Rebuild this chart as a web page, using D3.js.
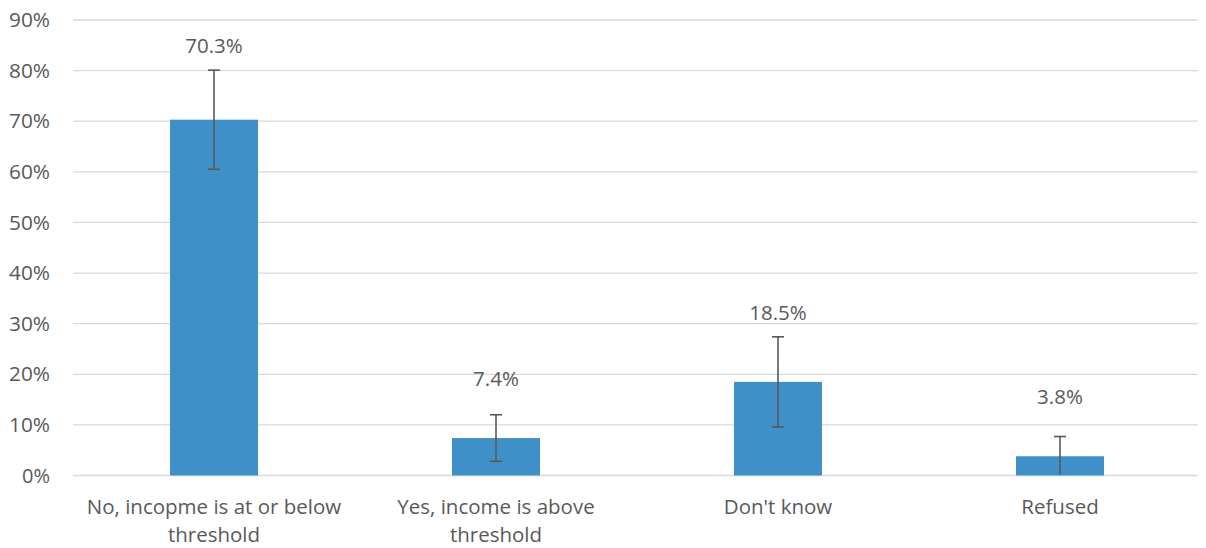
<!DOCTYPE html>
<html><head><meta charset="utf-8">
<script src="https://cdn.jsdelivr.net/npm/d3@7"></script>
<style>body{margin:0;background:#fff}svg{display:block}text{font-family:"Open Sans",sans-serif;fill:#595959}</style>
</head><body><svg id="c" width="1206" height="548"></svg>
<script>
const categories = ["No, incopme is at or below threshold","Yes, income is above threshold","Don't know","Refused"];
const categoryLines = [["No, incopme is at or below","threshold"],["Yes, income is above","threshold"],["Don't know"],["Refused"]];
const values = [70.3, 7.4, 18.5, 3.8];
const errLow = [60.5, 2.8, 9.6, 0.2];
const errHigh = [80.1, 12.0, 27.4, 7.7];
const labelAt = [84.9, 19.1, 32.1, 15.5];
const yTicks = [0,10,20,30,40,50,60,70,80,90];

const svg = d3.select("#c");
const x = d3.scaleBand().domain(categories).range([73,1201]).paddingInner(0.688).paddingOuter(0.344);
const y = d3.scaleLinear().domain([0,90]).range([475.5,20]);

svg.append("g").selectAll("line").data(yTicks).join("line")
  .attr("x1",73).attr("x2",1198).attr("y1",d=>y(d)).attr("y2",d=>y(d))
  .attr("stroke","#d9d9d9").attr("stroke-width",1.3);

svg.append("g").selectAll("text").data(yTicks).join("text")
  .attr("x",50).attr("y",d=>y(d)).attr("dy","0.35em").attr("text-anchor","end")
  .attr("font-size",20.5).attr("textLength",d=>d===0?28:41).attr("lengthAdjust","spacingAndGlyphs").text(d=>d+"%");

svg.append("g").selectAll("rect").data(values).join("rect")
  .attr("x",(d,i)=>x(categories[i])).attr("width",x.bandwidth())
  .attr("y",d=>y(d)).attr("height",d=>y(0)-y(d)).attr("fill","#3f8fc8");

const eb = svg.append("g").attr("stroke","#595959").attr("stroke-width",1.6);
values.forEach((v,i)=>{
  const cx = x(categories[i])+x.bandwidth()/2;
  eb.append("line").attr("x1",cx).attr("x2",cx).attr("y1",y(errLow[i])).attr("y2",y(errHigh[i]));
  eb.append("line").attr("x1",cx-6).attr("x2",cx+6).attr("y1",y(errHigh[i])).attr("y2",y(errHigh[i]));
  if(errLow[i]>0.5) eb.append("line").attr("x1",cx-6).attr("x2",cx+6).attr("y1",y(errLow[i])).attr("y2",y(errLow[i]));
});

svg.append("g").selectAll("text").data(values).join("text")
  .attr("x",(d,i)=>x(categories[i])+x.bandwidth()/2).attr("y",(d,i)=>y(labelAt[i]))
  .attr("dy","0.35em").attr("text-anchor","middle").attr("font-size",20.5)
  .text(d=>d.toFixed(1)+"%");

const xl = svg.append("g");
categoryLines.forEach((lines,i)=>{
  const t = xl.append("text").attr("text-anchor","middle").attr("font-size",20.5)
    .attr("x",x(categories[i])+x.bandwidth()/2);
  lines.forEach((ln,j)=>t.append("tspan").attr("x",x(categories[i])+x.bandwidth()/2).attr("y",507+j*28).attr("dy","0.35em").text(ln));
});
</script></body></html>
